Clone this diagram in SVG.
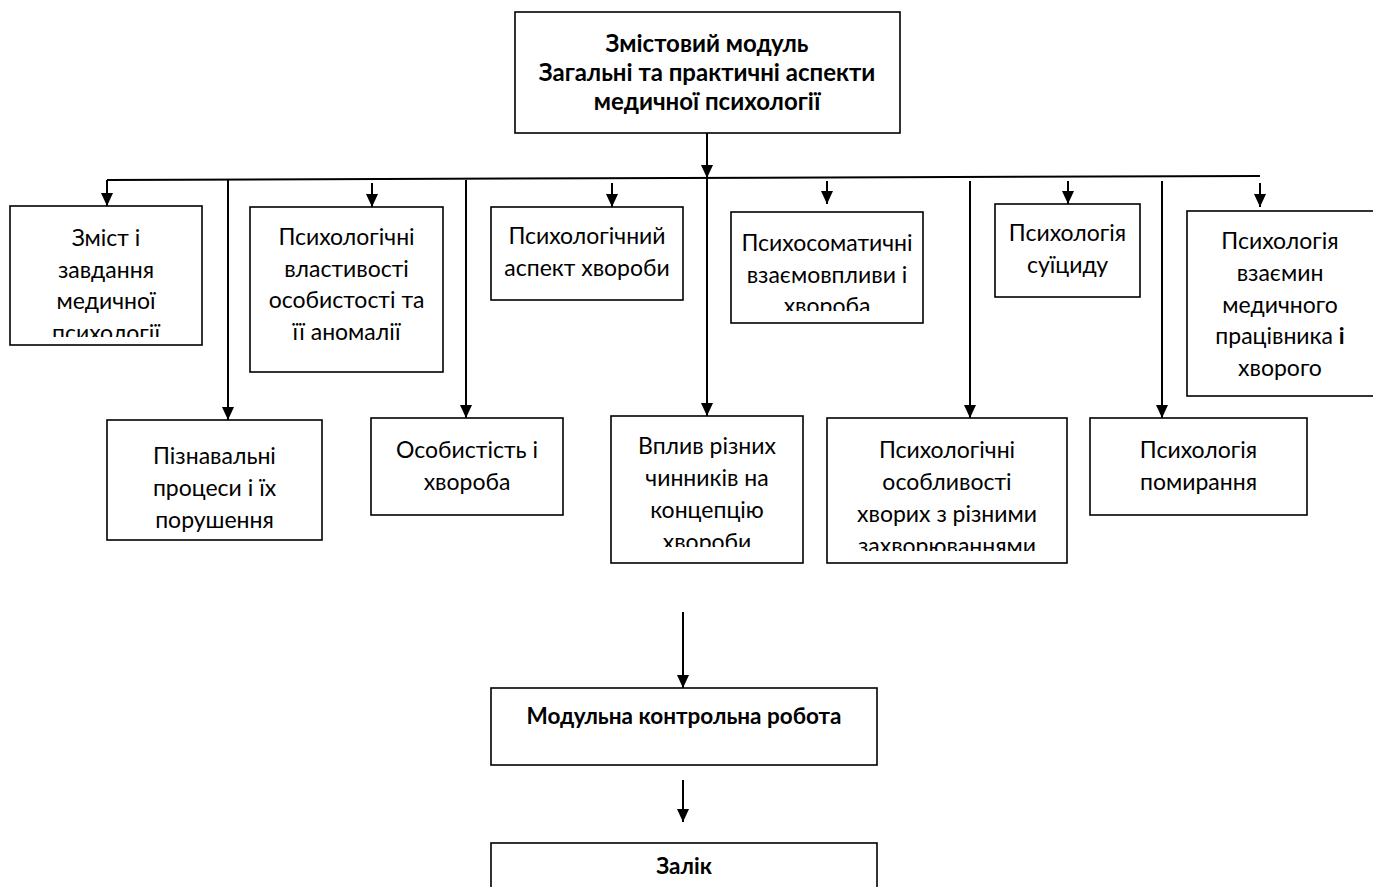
<svg xmlns="http://www.w3.org/2000/svg" width="1373" height="887" viewBox="0 0 1373 887">
  <style>
    .box { fill: #ffffff; stroke: #000000; stroke-width: 1.6; }
    .wire { fill: none; stroke: #000000; stroke-width: 2; }
    .arr { fill: none; stroke: #000000; stroke-width: 2; marker-end: url(#head); }
    text { font-family: Lato, "Open Sans", "Liberation Sans", sans-serif; fill: #000000; text-anchor: middle; }
    .t { font-size: 23px; }
    .h { font-size: 24px; font-weight: bold; }
    .b { font-size: 22.5px; font-weight: bold; }
  </style>
  <defs>
    <marker id="head" viewBox="0 0 13 12" refX="13" refY="6" markerWidth="13" markerHeight="12" markerUnits="userSpaceOnUse" orient="auto">
      <path d="M0,0 L13,6 L0,12 z" fill="#000000"/>
    </marker>
    <clipPath id="clip-zmist"><rect x="10" y="206" width="192" height="131"/></clipPath>
    <clipPath id="clip-psykhosom"><rect x="731" y="212" width="192" height="99"/></clipPath>
    <clipPath id="clip-vplyv"><rect x="611" y="416" width="192" height="131"/></clipPath>
    <clipPath id="clip-osoblyvosti"><rect x="827" y="418" width="240" height="133"/></clipPath>
  </defs>

  <!-- connectors -->
  <g id="connectors">
    <line class="arr" x1="707" y1="133" x2="707" y2="178"/>
    <path class="wire" d="M1260,176 L107,180"/>
    <line class="arr" x1="107" y1="180" x2="107" y2="206"/>
    <line class="arr" x1="372" y1="183" x2="372" y2="207"/>
    <line class="arr" x1="612" y1="183" x2="612" y2="207"/>
    <line class="arr" x1="827" y1="181" x2="827" y2="204"/>
    <line class="arr" x1="1068" y1="181" x2="1068" y2="204"/>
    <line class="arr" x1="1260" y1="183" x2="1260" y2="207"/>
    <line class="arr" x1="228" y1="180" x2="228" y2="420"/>
    <line class="arr" x1="466" y1="180" x2="466" y2="418"/>
    <line class="arr" x1="707" y1="178" x2="707" y2="416"/>
    <line class="arr" x1="970" y1="181" x2="970" y2="418"/>
    <line class="arr" x1="1162" y1="181" x2="1162" y2="418"/>
    <line class="arr" x1="683" y1="612" x2="683" y2="688"/>
    <line class="arr" x1="683" y1="780" x2="683" y2="822"/>
  </g>

  <!-- module header -->
  <g id="module">
    <rect class="box" x="515" y="12" width="385" height="121"/>
    <text class="h" x="707" y="52">Змістовий модуль</text>
    <text class="h" x="707" y="81">Загальні та практичні аспекти</text>
    <text class="h" x="707" y="110">медичної психології</text>
  </g>

  <!-- upper row of topics -->
  <g id="topic-zmist">
    <rect class="box" x="10" y="206" width="192" height="139"/>
    <g clip-path="url(#clip-zmist)" class="t">
      <text x="106" y="246">Зміст і</text>
      <text x="106" y="277.5">завдання</text>
      <text x="106" y="309">медичної</text>
      <text x="106" y="340.5">психології</text>
    </g>
  </g>

  <g id="topic-vlastyvosti">
    <rect class="box" x="250" y="207" width="193" height="165"/>
    <g class="t">
      <text x="346.5" y="245">Психологічні</text>
      <text x="346.5" y="277">властивості</text>
      <text x="346.5" y="308">особистості та</text>
      <text x="346.5" y="340">її аномалії</text>
    </g>
  </g>

  <g id="topic-aspekt">
    <rect class="box" x="491" y="207" width="192" height="93"/>
    <g class="t">
      <text x="587" y="244">Психологічний</text>
      <text x="587" y="276">аспект хвороби</text>
    </g>
  </g>

  <g id="topic-psykhosomatyka">
    <rect class="box" x="731" y="212" width="192" height="111"/>
    <g clip-path="url(#clip-psykhosom)" class="t">
      <text x="827" y="251">Психосоматичні</text>
      <text x="827" y="282.5">взаємовпливи і</text>
      <text x="827" y="314">хвороба</text>
    </g>
  </g>

  <g id="topic-suitsyd">
    <rect class="box" x="995" y="204" width="145" height="93"/>
    <g class="t">
      <text x="1067.5" y="241">Психологія</text>
      <text x="1067.5" y="273">суїциду</text>
    </g>
  </g>

  <g id="topic-vzaemyny">
    <rect class="box" x="1187" y="211" width="188" height="185"/>
    <g class="t">
      <text x="1280" y="249">Психологія</text>
      <text x="1280" y="281">взаємин</text>
      <text x="1280" y="313">медичного</text>
      <text x="1280" y="344">працівника <tspan font-weight="bold">і</tspan></text>
      <text x="1280" y="376">хворого</text>
    </g>
  </g>

  <!-- lower row of topics -->
  <g id="topic-piznavalni">
    <rect class="box" x="107" y="420" width="215" height="120"/>
    <g class="t">
      <text x="214.5" y="464">Пізнавальні</text>
      <text x="214.5" y="496">процеси і їх</text>
      <text x="214.5" y="528">порушення</text>
    </g>
  </g>

  <g id="topic-osobystist">
    <rect class="box" x="371" y="418" width="192" height="97"/>
    <g class="t">
      <text x="467" y="458">Особистість і</text>
      <text x="467" y="490">хвороба</text>
    </g>
  </g>

  <g id="topic-vplyv">
    <rect class="box" x="611" y="416" width="192" height="147"/>
    <g clip-path="url(#clip-vplyv)" class="t">
      <text x="707" y="454">Вплив різних</text>
      <text x="707" y="486">чинників на</text>
      <text x="707" y="518">концепцію</text>
      <text x="707" y="550">хвороби</text>
    </g>
  </g>

  <g id="topic-osoblyvosti">
    <rect class="box" x="827" y="418" width="240" height="145"/>
    <g clip-path="url(#clip-osoblyvosti)" class="t">
      <text x="947" y="458">Психологічні</text>
      <text x="947" y="490">особливості</text>
      <text x="947" y="522">хворих з різними</text>
      <text x="947" y="554">захворюваннями</text>
    </g>
  </g>

  <g id="topic-pomyrannia">
    <rect class="box" x="1090" y="418" width="217" height="97"/>
    <g class="t">
      <text x="1198.5" y="458">Психологія</text>
      <text x="1198.5" y="490">помирання</text>
    </g>
  </g>

  <!-- assessment -->
  <g id="control-work">
    <rect class="box" x="491" y="688" width="386" height="77"/>
    <text class="b" x="684" y="724">Модульна контрольна робота</text>
  </g>

  <g id="credit">
    <rect class="box" x="491" y="843" width="386" height="50"/>
    <text class="b" x="684" y="874">Залік</text>
  </g>
</svg>
